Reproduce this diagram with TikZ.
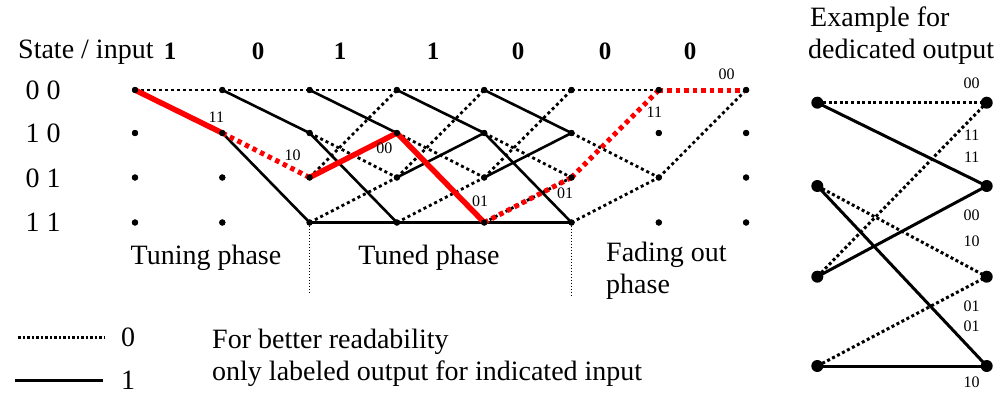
\documentclass[tikz,border=0pt]{standalone}
\usepackage{fontspec}
\setmainfont{Liberation Serif}
\begin{document}
\begin{tikzpicture}[x=1pt,y=-1pt,
  dot/.style={circle,fill=black,inner sep=0pt,minimum size=6pt},
  bigdot/.style={circle,fill=black,inner sep=0pt,minimum size=12pt},
  zero/.style={line width=2.8pt,dash pattern=on 3pt off 3pt},
  one/.style={line width=2.6pt},
  bzero/.style={line width=3pt,dash pattern=on 3pt off 2.6pt},
  bone/.style={line width=3pt},
  redone/.style={line width=5.5pt,red},
  redzero/.style={line width=5pt,red,dash pattern=on 4.5pt off 4pt},
  divider/.style={line width=1pt,dash pattern=on 1pt off 2pt},
  lab/.style={font=\fontsize{16}{16}\selectfont,inner sep=0pt},
  txt/.style={font=\fontsize{28}{32}\selectfont,inner sep=0pt},
  bin/.style={font=\fontsize{25}{25}\selectfont\bfseries,inner sep=0pt},
]
\useasboundingbox (0,0) rectangle (1006,394);

% grid of states
\foreach \c/\x in {0/135,1/222.3,2/309.6,3/396.9,4/484.2,5/571.5,6/658.8,7/746.1}{
  \foreach \r/\y in {0/90,1/133,2/177.5,3/222.5}{
    \node[dot] (n\c\r) at (\x,\y) {};
  }
}

% black transitions
\draw[zero] (n00.center) -- (n10.center);
\draw[zero] (n10.center) -- (n20.center);
\draw[one]  (n10.center) -- (n21.center);
\draw[one]  (n11.center) -- (n23.center);
\foreach \c/\d in {2/3,3/4,4/5}{
  \draw[zero] (n\c0.center) -- (n\d0.center);
  \draw[one]  (n\c0.center) -- (n\d1.center);
  \draw[zero] (n\c1.center) -- (n\d2.center);
  \draw[one]  (n\c1.center) -- (n\d3.center);
  \draw[zero] (n\c2.center) -- (n\d0.center);
  \draw[one]  (n\c2.center) -- (n\d1.center);
  \draw[zero] (n\c3.center) -- (n\d2.center);
  \draw[one]  (n\c3.center) -- (n\d3.center);
}
\draw[zero] (n50.center) -- (n60.center);
\draw[zero] (n51.center) -- (n62.center);
\draw[zero] (n53.center) -- (n62.center);
\draw[zero] (n62.center) -- (n70.center);

% red path
\draw[redone]  (n00.center) -- (n11.center);
\draw[redzero] (n11.center) -- (n22.center);
\draw[redone]  (n22.center) -- (n31.center);
\draw[redone]  (n31.center) -- (n43.center);
\draw[redzero] (n43.center) -- (n52.center);
\draw[redzero] (n52.center) -- (n60.center);
\draw[redzero] (n60.center) -- (n70.center);

% redraw dots on top
\foreach \c in {0,...,7}{\foreach \r in {0,...,3}{\fill (n\c\r) circle (3.2pt);}}

% output labels
\node[lab] (o1) at (216.3,117.5) {11};
\node[lab] (o2) at (292.7,155.7) {10};
\node[lab] (o3) at (384.3,148.3) {00};
\node[lab] (o4) at (480,201.7) {01};
\node[lab] (o5) at (565,193.3) {01};
\node[lab] (o6) at (654.3,112.7) {11};
\node[lab] (o7) at (726.7,74) {00};

% headings
\node[txt,anchor=west] (hdr) at (18,52) {State / input};
\foreach \i/\x/\v in {1/170/1,2/258/0,3/340/1,4/433/1,5/518/0,6/605/0,7/690/0}{
  \node[bin] (in\i) at (\x,51) {\v};
}
\node[txt] (s0) at (43,90) {0 0};
\node[txt] (s1) at (43,133) {1 0};
\node[txt] (s2) at (43,178) {0 1};
\node[txt] (s3) at (43,222) {1 1};

% phases
\coordinate (d1) at (309.6,292);
\coordinate (d2) at (571.5,296);
\draw[divider] (n23.center) -- (d1);
\draw[divider] (n53.center) -- (d2);
\node[txt] (p1) at (206,258) {Tuning phase};
\node[txt] (p2) at (429,258) {Tuned phase};
\node[txt,anchor=north west,align=left] (p3) at (606,242) {Fading out\\phase};

% legend
\coordinate (l0a) at (18,337);
\coordinate (l0b) at (105,337);
\coordinate (l1a) at (15,380);
\coordinate (l1b) at (103,380);
\draw[line width=3pt,dash pattern=on 2.5pt off 2pt] (l0a) -- (l0b);
\draw[line width=3pt] (l1a) -- (l1b);
\node[txt] (lg0) at (128,337) {0};
\node[txt] (lg1) at (128,380) {1};
\node[txt,anchor=west,align=left] (note) at (212,358) {For better readability\\only labeled output for indicated input};

% example
\node[txt,anchor=west] (ex1) at (810,20) {Example for};
\node[txt,anchor=west] (ex2) at (808,52) {dedicated output};
\foreach \r/\y in {0/102.7,1/186,2/276.7,3/366}{
  \node[bigdot] (L\r) at (817.3,\y) {};
  \node[bigdot] (R\r) at (986.7,\y) {};
}
\draw[bzero] (L0.center) -- (R0.center);
\draw[bone]  (L0.center) -- (R1.center);
\draw[bzero] (L1.center) -- (R2.center);
\draw[bone]  (L1.center) -- (R3.center);
\draw[bzero] (L2.center) -- (R0.center);
\draw[bone]  (L2.center) -- (R1.center);
\draw[bzero] (L3.center) -- (R2.center);
\draw[bone]  (L3.center) -- (R3.center);
\node[lab] (e1) at (971.7,83.3) {00};
\node[lab] (e2) at (971.7,135) {11};
\node[lab] (e3) at (971.7,157.3) {11};
\node[lab] (e4) at (971.7,215) {00};
\node[lab] (e5) at (971.7,241.7) {10};
\node[lab] (e6) at (971.7,306.7) {01};
\node[lab] (e7) at (971.7,326.7) {01};
\node[lab] (e8) at (971.7,382.7) {10};
\end{tikzpicture}
\end{document}
